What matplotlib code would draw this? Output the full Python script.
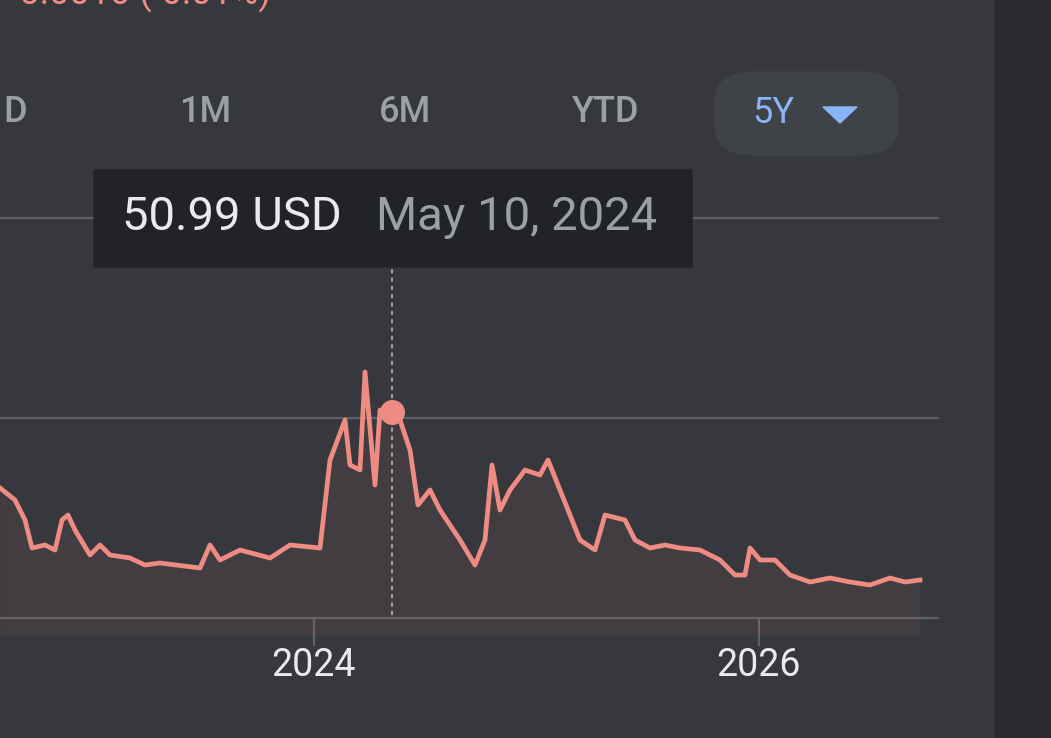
import matplotlib
matplotlib.use("Agg")
import matplotlib.pyplot as plt
from matplotlib.patches import FancyBboxPatch, Rectangle

plt.rcParams["font.family"] = ["Roboto", "DejaVu Sans"]

# price series (x in fractional years, y in price units)
years = [2022.59 + x / 222.5 for x in [
    0, 15, 25, 32, 45, 55, 62, 68, 75, 90, 100, 110, 130, 145, 160, 200, 210, 220,
    240, 270, 290, 320, 330, 345, 350, 360, 365, 375, 380, 392, 400, 410, 418, 430,
    440, 460, 475, 485, 492, 500, 510, 525, 540, 548, 560, 580, 595, 605, 625, 635,
    650, 665, 680, 700, 720, 735, 745, 750, 760, 775, 790, 810, 830, 850, 870, 890,
    905, 920]]
prices = [32.5, 29.5, 24.5, 17.5, 18.25, 17, 24.5, 25.75, 22, 15.75, 18.25, 15.75,
          15, 13.25, 13.75, 12.5, 18.25, 14.5, 17, 15, 18.25, 17.5, 39.5, 49.5, 38.25,
          37, 61.5, 33.25, 52, 51.5, 49.5, 42, 28.25, 32, 27, 19.5, 13.25, 19.5, 38.25,
          27, 32, 37, 35.75, 39.5, 32, 19.5, 17, 25.75, 24.5, 19.5, 17.5, 18.25, 17.5,
          17, 14.5, 10.75, 10.75, 17.5, 14.5, 14.5, 10.75, 9, 10, 9, 8.25, 10, 9, 9.5]
grid_levels = [0, 50, 100]
tick_years = [2024, 2026]
tick_labels = ["2024", "2026"]
buttons = ["D", "1M", "6M", "YTD"]
button_x = [15, 205, 405, 606]
hover_year, hover_price = 2022.59 + 392 / 222.5, 51.5

BG = "#36383d"
LINE = "#ee8b82"

fig = plt.figure(figsize=(10.51, 7.38), dpi=100, facecolor=BG)
ax = fig.add_axes([0, 0, 1, 1])
ax.set_facecolor(BG)
ax.set_xlim(2022.59, 2022.59 + 1051 / 222.5)
ax.set_ylim(-30, 154.5)
ax.axis("off")

px = lambda x: 2022.59 + x / 222.5
py = lambda y: (618 - y) / 4

# right dark strip
ax.add_patch(Rectangle((px(995), -30), px(1051) - px(995), 200, color="#2a2b2e", zorder=1))

for g in grid_levels:
    ax.plot([px(0), px(938)], [g, g], color="#5f6164", lw=1.6, zorder=2)
for ty, tl in zip(tick_years, tick_labels):
    ax.plot([ty, ty], [0, py(645)], color="#5f6164", lw=1.6, zorder=2)
    ax.text(ty, py(666), tl, color="#e8eaed", fontsize=27, ha="center", va="center")

ax.fill_between(years, prices, py(635), color=LINE, alpha=0.07, lw=0, zorder=3)
ax.plot(years, prices, color=LINE, lw=3.4, zorder=4, solid_joinstyle="round")

ax.plot([hover_year, hover_year], [py(615), py(267)], color="#9aa0a6", lw=1.5,
        ls=(0, (2, 2)), zorder=5)
ax.plot(hover_year, hover_price, "o", ms=17, color=LINE, zorder=6)

# tooltip
ax.add_patch(FancyBboxPatch((px(94), py(267)), px(692) - px(94), py(170) - py(267),
                            boxstyle="round,pad=0,rounding_size=0.01",
                            color="#222326", zorder=7))
ax.text(px(122), py(217), "50.99 USD", color="#e8eaed", fontsize=34, va="center", zorder=8)
ax.text(px(376), py(217), "May 10, 2024", color="#9aa0a6", fontsize=34, va="center", zorder=8)

# range buttons
for b, bx in zip(buttons, button_x):
    ax.text(px(bx), py(113), b, color="#9aa0a6", fontsize=26, ha="center", va="center",
            fontweight="medium")
ax.add_patch(FancyBboxPatch((px(715), py(155)), px(898) - px(715), py(72) - py(155),
                            boxstyle="round,pad=0,rounding_size=0.18",
                            mutation_aspect=40, color="#3f4246", zorder=2))
ax.text(px(773), py(113), "5Y", color="#8ab4f8", fontsize=26, ha="center", va="center", zorder=3)
ax.fill([px(823), px(857), px(840)], [py(107), py(107), py(123)], color="#8ab4f8", zorder=3)

# cropped change text at the top
ax.text(px(-20), py(-6), "+ -0.0010 (-0.01%)", color="#f28b82", fontsize=26, va="center")

fig.savefig("out.png", dpi=100, facecolor=BG)
